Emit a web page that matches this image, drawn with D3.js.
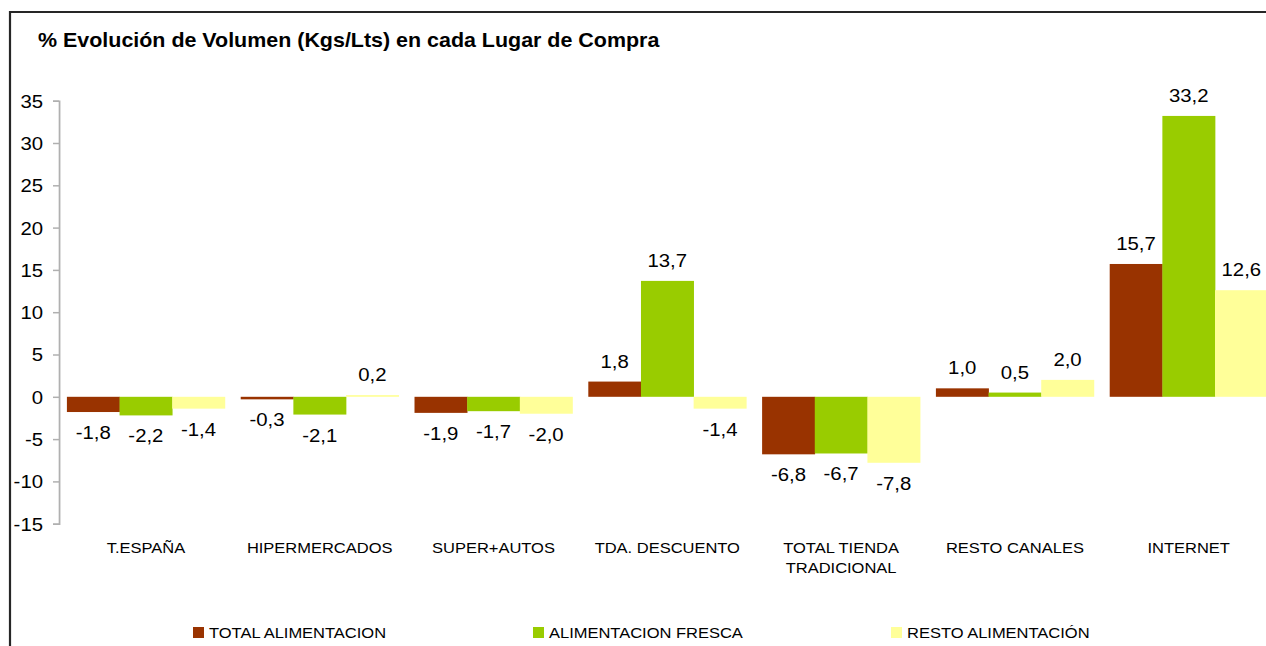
<!DOCTYPE html>
<html>
<head>
<meta charset="utf-8">
<script src="https://cdn.jsdelivr.net/npm/d3@7"></script>
<style>
  body { margin: 0; background: #fff; }
  svg { display: block; font-family: "Liberation Sans", Arial, sans-serif; }
</style>
</head>
<body>
<svg></svg>
<script>
const categories = ["T.ESPAÑA", "HIPERMERCADOS", "SUPER+AUTOS", "TDA. DESCUENTO",
                    "TOTAL TIENDA\nTRADICIONAL", "RESTO CANALES", "INTERNET"];
const seriesNames = ["TOTAL ALIMENTACION", "ALIMENTACION FRESCA", "RESTO ALIMENTACIÓN"];
const totalAlim = [-1.8, -0.3, -1.9, 1.8, -6.8, 1.0, 15.7];
const alimFresca = [-2.2, -2.1, -1.7, 13.7, -6.7, 0.5, 33.2];
const restoAlim = [-1.4, 0.2, -2.0, -1.4, -7.8, 2.0, 12.6];
const yTicks = [-15, -10, -5, 0, 5, 10, 15, 20, 25, 30, 35];
const colors = ["#993300", "#99cc00", "#ffff99"];

const series = [totalAlim, alimFresca, restoAlim];

// the original is a bit wider than tall, so draw in a narrower box and stretch
const width = 1266, height = 646, sx = 1.1;
const W = width / sx;

const svg = d3.select("svg")
    .attr("width", width)
    .attr("height", height)
    .attr("viewBox", `0 0 ${W} ${height}`)
    .attr("preserveAspectRatio", "none");

// frame
svg.append("rect")
    .attr("x", 10 / sx).attr("y", 12)
    .attr("width", W).attr("height", height)
    .attr("fill", "none")
    .attr("stroke", "#262626")
    .attr("stroke-width", 2);

svg.append("text")
    .attr("x", 38 / sx)
    .attr("y", 47)
    .style("font-weight", "bold")
    .style("font-size", "19.5px")
    .style("fill", "#000")
    .text("% Evolución de Volumen (Kgs/Lts) en cada Lugar de Compra");

const left = 59 / sx, band = 173.8 / sx;

const x0 = d3.scaleBand()
    .domain(d3.range(categories.length))
    .range([left, left + band * categories.length])
    .padding(0);

const x1 = d3.scaleBand()
    .domain(d3.range(series.length))
    .range([band * 0.0455, band * 0.9545])
    .padding(0);

const y = d3.scaleLinear()
    .domain([-15, 35])
    .range([523.7, 100.7]);

const yAxis = svg.append("g")
    .attr("transform", `translate(${left},0)`)
    .call(d3.axisLeft(y)
        .tickValues(yTicks)
        .tickSize(6 / sx)
        .tickPadding(10 / sx)
        .tickFormat(d => String(d)));
yAxis.select(".domain").attr("stroke", "#b0b0b0").attr("stroke-width", 1.6);
yAxis.selectAll(".tick line").attr("stroke", "#b0b0b0").attr("stroke-width", 1.5);
yAxis.selectAll(".tick text")
    .style("font-size", "18.5px")
    .style("font-family", "Liberation Sans, Arial, sans-serif")
    .attr("fill", "#000")
    .attr("dy", "0.35em");

const groups = svg.selectAll(".grp")
    .data(categories)
    .enter()
    .append("g")
    .attr("class", "grp")
    .attr("transform", (d, i) => `translate(${x0(i)},0)`);

series.forEach((vals, s) => {
    groups.append("rect")
        .attr("x", x1(s))
        .attr("width", x1.bandwidth() + 0.3)
        .attr("y", (d, i) => y(Math.max(0, vals[i])))
        .attr("height", (d, i) => Math.abs(y(vals[i]) - y(0)))
        .attr("fill", colors[s]);

    groups.append("text")
        .attr("x", x1(s) + x1.bandwidth() / 2)
        .attr("y", (d, i) => vals[i] >= 0 ? y(vals[i]) - 14 : y(vals[i]) + 27)
        .style("text-anchor", "middle")
        .style("font-size", "18.5px")
        .style("fill", "#000")
        .text((d, i) => vals[i].toFixed(1).replace(".", ","));
});

// category labels
groups.append("text")
    .attr("x", band / 2)
    .attr("y", 553)
    .style("text-anchor", "middle")
    .style("font-size", "15px")
    .style("fill", "#000")
    .each(function(d) {
        d.split("\n").forEach((line, k) => {
            d3.select(this).append("tspan")
                .attr("x", band / 2)
                .attr("dy", k === 0 ? 0 : 20)
                .text(line);
        });
    });

// legend
const legendX = [193, 533, 891];
const legend = svg.selectAll(".leg")
    .data(seriesNames)
    .enter()
    .append("g")
    .attr("class", "leg")
    .attr("transform", (d, i) => `translate(${legendX[i] / sx},627)`);

legend.append("rect")
    .attr("width", 11 / sx)
    .attr("height", 11)
    .attr("fill", (d, i) => colors[i]);

legend.append("text")
    .attr("x", 16 / sx)
    .attr("y", 11)
    .style("font-size", "15px")
    .style("fill", "#000")
    .text(d => d);
</script>
</body>
</html>
